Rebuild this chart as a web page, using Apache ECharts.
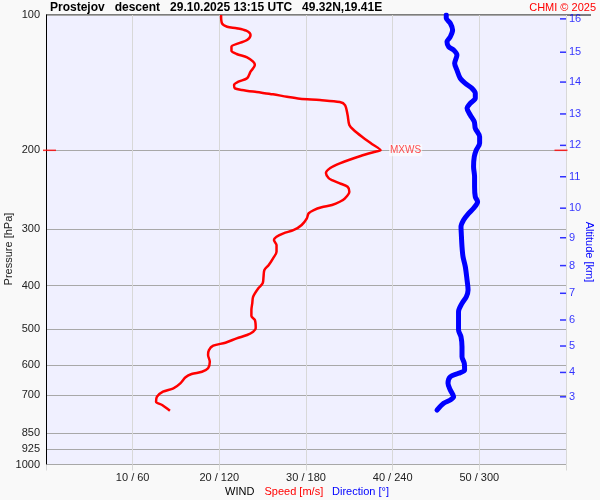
<!DOCTYPE html>
<html>
<head>
<meta charset="utf-8">
<script src="https://cdn.jsdelivr.net/npm/echarts@6/dist/echarts.min.js"></script>
<style>
  html, body { margin: 0; padding: 0; background: #f9f9f9; }
  #main { width: 600px; height: 500px; }
</style>
</head>
<body>
<div id="main"></div>
<script>
// wind speed profile [m/s] vs pressure [hPa]
var speedP = [100, 104.3, 106.2, 107.0, 108.4, 110.8, 113.7, 115.6, 117.6, 120.1, 122.1, 124.2, 127.0, 129.2,
    133.7, 138.3, 140.7, 143.1, 145.6, 146.8, 148.4, 150.1, 152.0, 153.5, 154.6, 156.2, 158.6, 166.9, 175.7,
    180.2, 186.8, 193.6, 200, 201.4, 205.9, 213.8, 219.0, 224.7, 230.5, 232.9, 236.8, 241.0, 247.2, 255.7,
    260.3, 264.7, 267.8, 271.6, 276.2, 283.3, 293.2, 300.8, 306.0, 311.4, 316.7, 324.9, 336.2, 347.8, 359.9,
    369.3, 382.2, 395.3, 405.6, 423.4, 437.9, 453.2, 467.4, 477.1, 497.8, 506.5, 515.2, 524.0, 535.9, 544.2,
    556.3, 570.8, 590.7, 611.0, 621.8, 629.1, 639.8, 659.8, 676.9, 688.8, 706.7, 725.0, 737.5, 759.3];
var speed = [20.2, 20.3, 20.9, 22.0, 23.1, 23.6, 23.2, 22.2, 21.4, 21.4, 22.0, 23.2, 23.9, 24.1,
    23.6, 23.2, 22.2, 21.7, 21.8, 22.6, 24.3, 26.2, 27.8, 29.3, 31.6, 33.9, 34.5, 34.8, 35.0,
    35.5, 36.5, 37.6, 38.6, 38.0, 36.3, 33.9, 32.8, 32.3, 32.6, 33.0, 33.9, 34.8, 35.0, 34.5,
    33.9, 33.0, 31.8, 30.9, 30.3, 30.1, 29.5, 28.6, 27.4, 26.6, 26.3, 26.6, 26.6, 26.2, 25.7,
    25.2, 25.1, 25.0, 24.5, 23.9, 23.8, 23.7, 23.7, 24.1, 24.2, 23.9, 23.2, 22.0, 20.7, 19.3,
    18.8, 18.7, 18.9, 18.7, 18.0, 16.8, 16.1, 15.5, 14.7, 13.5, 12.8, 12.7, 13.4, 14.3];

// wind direction [deg] vs pressure [hPa]
var dirP = [100, 101.7, 104.3, 108.0, 111.8, 114.7, 117.6, 119.6, 122.7, 128.1, 132.6, 138.3, 141.9, 145.6,
    149.3, 153.2, 157.2, 161.3, 166.9, 172.7, 178.7, 186.5, 192.9, 199.7, 206.6, 217.5, 229.0, 241.0, 253.7,
    260.3, 269.2, 276.2, 285.8, 295.8, 306.0, 327.7, 345.0, 363.1, 388.7, 409.1, 423.4, 437.9, 457.2, 477.1,
    502.1, 519.7, 547.1, 575.8, 595.5, 616.3, 626.9, 637.9, 659.8, 682.9, 706.7, 718.7, 731.0, 756.6];
var dir = [277.1, 277.1, 279.9, 281.5, 279.9, 277.6, 278.7, 282.2, 284.5, 282.9, 284.5, 286.8, 290.3, 294.9,
    297.2, 297.2, 293.7, 291.5, 293.7, 296.5, 297.2, 300.2, 300.2, 297.9, 296.5, 296.0, 296.7, 296.7, 297.2,
    298.8, 296.0, 292.6, 289.1, 287.3, 287.5, 288.0, 288.7, 290.3, 291.5, 292.2, 291.0, 288.0, 285.6, 285.6,
    285.6, 287.3, 288.0, 288.0, 289.6, 289.8, 285.6, 279.9, 278.3, 279.9, 282.2, 279.9, 275.3, 270.7];

// altitude ticks [km] and the pressure [hPa] they sit at
var altKm = [3, 4, 5, 6, 7, 8, 9, 10, 11, 12, 13, 14, 15, 16];
var altP = [707, 624, 545, 477, 416, 361, 313, 269, 229, 195, 166, 141, 121, 102];

var pressLevels = [100, 200, 300, 400, 500, 600, 700, 850, 925, 1000];
var mxwsSpeed = 38.6, mxwsP = 200;

var font = 'Liberation Sans, Arial, sans-serif';
var myChart = echarts.init(document.getElementById('main'));

var speedData = speed.map(function (s, i) { return [s, speedP[i]]; });
var dirData = dir.map(function (d, i) { return [d, dirP[i]]; });
var altData = altP.map(function (p, i) { return [60, p, altKm[i]]; });

var option = {
    animation: false,
    backgroundColor: '#f9f9f9',
    grid: {
        left: 46, right: 34, top: 15, bottom: 35.5,
        show: true, backgroundColor: '#f0f0ff', borderWidth: 0
    },
    xAxis: [{
        type: 'value', min: 0, max: 60, interval: 10,
        axisLine: { show: false },
        axisTick: { show: true, length: 6, lineStyle: { color: '#d8d8d8' } },
        splitLine: { show: true, lineStyle: { color: '#d8d8d8' } },
        axisLabel: {
            margin: 8, color: '#222', fontSize: 11, fontFamily: font,
            formatter: function (v) { return (v === 0 || v === 60) ? '' : v + ' / ' + (v * 6); }
        }
    }, {
        // direction axis, same width as speed axis (10 m/s = 60 deg)
        type: 'value', min: 0, max: 360, show: false
    }],
    yAxis: {
        type: 'log', logBase: 10, min: 100, max: 1000, inverse: true,
        axisLine: { show: true, lineStyle: { color: '#000', width: 1 } },
        axisTick: { show: false, customValues: pressLevels },
        splitLine: { show: true, lineStyle: { color: '#a8a8a8' } },
        axisLabel: {
            customValues: pressLevels, margin: 6, color: '#222', fontSize: 11, fontFamily: font,
            formatter: function (v) { return String(Math.round(v)); }
        }
    },
    series: [{
        name: 'Direction', type: 'line', xAxisIndex: 1, data: dirData,
        symbol: 'none', smooth: 0.3,
        lineStyle: { color: '#0000ff', width: 5, cap: 'round', join: 'round' }
    }, {
        name: 'Speed', type: 'line', data: speedData,
        symbol: 'none', smooth: 0.3,
        lineStyle: { color: '#ff0000', width: 2.5, join: 'round' }
    }, {
        name: 'Altitude', type: 'scatter', data: altData, clip: false,
        symbol: 'rect', symbolSize: [6, 1.5], symbolOffset: [-3, 0],
        itemStyle: { color: '#0000ff' },
        label: {
            show: true, position: 'right', distance: 3, color: '#0000ff', fontSize: 11, fontFamily: font,
            formatter: function (p) { return p.value[2]; }
        }
    }, {
        name: 'MXWS marks', type: 'scatter', clip: false,
        symbol: 'rect', symbolSize: [13, 1.5],
        itemStyle: { color: '#ff0000' },
        data: [
            { value: [0, mxwsP], symbolOffset: [3.5, 0] },
            { value: [60, mxwsP], symbolOffset: [-5, 0] }
        ]
    }, {
        name: 'MXWS', type: 'scatter', clip: false,
        symbolSize: 1, itemStyle: { color: 'rgba(0,0,0,0)' },
        data: [[mxwsSpeed, mxwsP]],
        label: {
            show: true, position: 'right', distance: 8, formatter: 'MXWS',
            color: '#ff2020', fontSize: 10, fontFamily: font,
            backgroundColor: 'rgba(255,255,255,0.75)', padding: [1, 1]
        }
    }],
    graphic: [
        { type: 'line', shape: { x1: 46, y1: 15, x2: 591, y2: 15 }, style: { stroke: '#000', lineWidth: 1 } },
        { type: 'line', shape: { x1: 46.5, y1: 15, x2: 46.5, y2: 470 }, style: { stroke: '#000', lineWidth: 1 } },
        { type: 'text', x: 50, y: 8, style: { text: 'Prostejov   descent   29.10.2025 13:15 UTC   49.32N,19.41E',
            font: 'bold 12px ' + font, fill: '#000', verticalAlign: 'middle' } },
        { type: 'text', x: 596, y: 8, style: { text: 'CHMI \u00a9 2025', font: '11px ' + font, fill: '#ff0000',
            align: 'right', verticalAlign: 'middle' } },
        { type: 'text', x: 9, y: 249, rotation: Math.PI / 2, style: { text: 'Pressure [hPa]', font: '11px ' + font,
            fill: '#222', align: 'center', verticalAlign: 'middle' } },
        { type: 'text', x: 589, y: 252, rotation: -Math.PI / 2, style: { text: 'Altitude [km]', font: '11px ' + font,
            fill: '#0000ff', align: 'center', verticalAlign: 'middle' } },
        { type: 'text', x: 225, y: 492, style: { text: 'WIND', font: '11px ' + font, fill: '#000', verticalAlign: 'middle' } },
        { type: 'text', x: 264.5, y: 492, style: { text: 'Speed [m/s]', font: '11px ' + font, fill: '#ff0000', verticalAlign: 'middle' } },
        { type: 'text', x: 332, y: 492, style: { text: 'Direction [\u00b0]', font: '11px ' + font, fill: '#0000ff', verticalAlign: 'middle' } }
    ]
};

myChart.setOption(option);
</script>
</body>
</html>
